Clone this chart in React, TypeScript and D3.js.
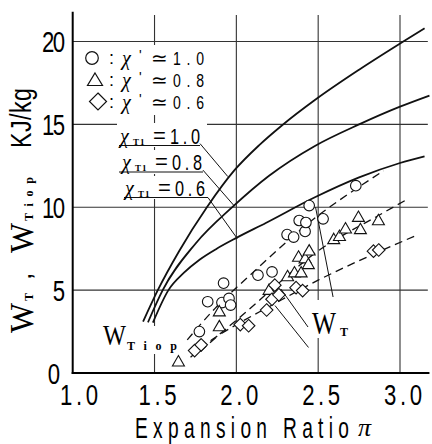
import React from 'react';
import * as d3 from 'd3';

const PI_TICKS = [1.0, 1.5, 2.0, 2.5, 3.0];
const PI_TICK_LABELS = ['1.0', '1.5', '2.0', '2.5', '3.0'];
const W_TICKS = [0, 5, 10, 15, 20];
const GRID_PI = [1.5, 2.0, 2.5, 3.0];
const GRID_W = [5, 10, 15, 20];

// solid curves W_T for chi_T1 = 1.0 / 0.8 / 0.6  [pi, W]
const CHI_10: [number, number][] = [
  [1.43, 3.1], [1.52, 5.0], [1.65, 7.35], [1.82, 10.0], [1.99, 12.25],
  [2.14, 13.75], [2.28, 14.95], [2.484, 16.5], [2.75, 18.3], [3.02, 20.0], [3.15, 20.8],
];
const CHI_08: [number, number][] = [
  [1.46, 3.06], [1.55, 5.0], [1.75, 7.8], [1.98, 10.05], [2.2, 11.9],
  [2.48, 13.7], [2.75, 15.0], [3.0, 16.07], [3.18, 16.74],
];
const CHI_06: [number, number][] = [
  [1.49, 3.04], [1.585, 5.0], [1.68, 6.05], [1.777, 6.85], [1.88, 7.5],
  [2.0, 8.15], [2.18, 9.05], [2.48, 10.6], [2.75, 11.8], [3.0, 12.67], [3.15, 13.07],
];

// dashed curves W_Tiop
const IOP_10: [number, number][] = [
  [1.7, 2.0], [1.87, 3.9], [2.1, 6.05], [2.3, 7.85], [2.5, 9.5], [2.73, 11.1], [2.9, 12.2],
];
const IOP_08: [number, number][] = [
  [1.78, 1.3], [1.87, 2.1], [2.05, 3.6], [2.2, 4.9], [2.35, 6.2], [2.49, 7.3],
  [2.65, 8.3], [2.85, 9.4], [3.03, 10.4],
];
const IOP_06: [number, number][] = [
  [1.72, 0.95], [1.85, 2.0], [1.994, 2.88], [2.2, 4.0], [2.5, 5.6], [2.8, 7.0], [3.095, 8.28],
];

// measured points
const CIRCLES: [number, number][] = [
  [1.774, 2.5], [1.825, 4.3], [1.912, 4.25], [1.955, 4.5], [1.965, 4.1], [1.922, 5.42],
  [2.132, 5.9], [2.218, 6.1], [2.31, 8.35], [2.35, 8.2], [2.42, 8.54], [2.384, 9.2],
  [2.425, 9.08], [2.445, 10.1], [2.53, 9.3], [2.73, 11.3],
];
const TRIANGLES: [number, number][] = [
  [1.646, 0.68], [1.896, 2.8], [1.896, 3.7], [2.2, 5.0], [2.313, 5.82], [2.355, 6.05],
  [2.396, 6.05], [2.38, 7.0], [2.42, 6.9], [2.445, 7.37], [2.44, 6.55], [2.595, 8.06],
  [2.63, 8.25], [2.667, 8.7], [2.758, 8.66], [2.746, 9.4], [2.868, 9.2],
];
const DIAMONDS: [number, number][] = [
  [1.745, 1.35], [1.785, 1.7], [2.024, 2.92], [2.075, 2.85], [2.185, 3.8], [2.218, 4.45],
  [2.26, 4.72], [2.235, 5.3], [2.365, 5.15], [2.405, 4.97], [2.838, 7.35], [2.87, 7.42],
];

// leader lines [from, to]
const CHI_LEADERS: [number, number][][] = [
  [[1.778, 13.84], [1.948, 11.85]],
  [[1.796, 12.24], [1.99, 10.05]],
  [[1.827, 10.58], [2.005, 8.12]],
];
const WT_LEADERS: [number, number][][] = [
  [[2.438, 2.775], [2.272, 5.07]],
  [[2.441, 1.54], [2.236, 4.07]],
  [[2.591, 4.585], [2.484, 10.0]],
];

const SANS = "'Liberation Sans', Arial, sans-serif";
const SERIF = "'Liberation Serif', 'Times New Roman', serif";

const x = d3.scaleLinear().domain([1, 3]).range([72.7, 400]);
const y = d3.scaleLinear().domain([0, 20]).range([373, 41.5]);

const smooth = d3
  .line<[number, number]>()
  .x((d) => x(d[0]))
  .y((d) => y(d[1]))
  .curve(d3.curveMonotoneX);
const straight = d3
  .line<[number, number]>()
  .x((d) => x(d[0]))
  .y((d) => y(d[1]));

const TRI = 'M0,-6.2L6,4.2L-6,4.2Z';
const DIA = 'M0,-6.3L6.3,0L0,6.3L-6.3,0Z';

function NText(props: {
  x: number; y: number; text: string; size: number; len?: number;
  sx?: number; anchor?: string; family?: string;
}) {
  const sx = props.sx ?? 0.74;
  return (
    <text
      transform={`translate(${props.x},${props.y}) scale(${sx},1)`}
      fontSize={props.size}
      fontFamily={props.family ?? SANS}
      textAnchor={props.anchor ?? 'start'}
      textLength={props.len ? props.len / sx : undefined}
      lengthAdjust="spacing"
    >
      {props.text}
    </text>
  );
}

function ChiLabel({ x0, base, value }: { x0: number; base: number; value: string }) {
  return (
    <g>
      <text x={x0} y={base - 2} fontSize={20} fontFamily={SERIF} fontStyle="italic">χ</text>
      <text x={x0 + 13} y={base} fontSize={9} fontFamily={SERIF} fontWeight="bold" letterSpacing={1}>T1</text>
      <text x={x0 + 33} y={base - 2} fontSize={22} fontFamily={SANS}>=</text>
      <NText x={x0 + 50} y={base - 1} text={value} size={22} len={30} />
    </g>
  );
}

function LegendRow({ cy, value, children }: { cy: number; value: string; children: React.ReactNode }) {
  return (
    <g>
      {children}
      <text x={109} y={cy + 6} fontSize={18} fontFamily={SANS}>:</text>
      <text x={122} y={cy + 7} fontSize={20} fontFamily={SERIF} fontStyle="italic">χ</text>
      <text x={139} y={cy + 2} fontSize={14} fontFamily={SANS}>'</text>
      <text x={151} y={cy + 7} fontSize={20} fontFamily="'DejaVu Sans', sans-serif">≃</text>
      <NText x={173} y={cy + 7} text={value} size={19} len={31} />
    </g>
  );
}

export default function App() {
  const xl = x(1);
  const yb = y(0);
  const stroke = '#111';
  return (
    <svg width={432} height={444} style={{ position: 'absolute', left: 0, top: 0, background: '#fff' }}>
      <rect width={432} height={444} fill="#fff" />
      {/* grid */}
      {GRID_PI.map((p) => (
        <line key={'gx' + p} x1={x(p)} x2={x(p)} y1={yb} y2={y(21.6)} stroke="#333" strokeWidth={1.1} />
      ))}
      {GRID_W.map((w) => (
        <line key={'gy' + w} x1={xl} x2={x(3.17)} y1={y(w)} y2={y(w)} stroke="#333" strokeWidth={1.1} />
      ))}
      {/* white boxes behind labels */}
      <rect x={82} y={45} width={128} height={70} fill="#fff" />
      <rect x={117} y={123} width={90} height={24} fill="#fff" />
      <rect x={117} y={150} width={90} height={24} fill="#fff" />
      <rect x={121} y={176} width={90} height={23} fill="#fff" />
      <rect x={100} y={326} width={80} height={28} fill="#fff" />
      <rect x={310} y={300} width={42} height={38} fill="#fff" />
      {/* axes */}
      <line x1={xl} x2={xl} y1={yb + 1} y2={y(21.8)} stroke="#000" strokeWidth={2} />
      <line x1={xl - 1} x2={x(3.18)} y1={yb} y2={yb} stroke="#000" strokeWidth={2} />

      {/* solid curves */}
      {[CHI_10, CHI_08, CHI_06].map((c, i) => (
        <path key={'c' + i} d={smooth(c) ?? ''} fill="none" stroke={stroke} strokeWidth={1.8} />
      ))}
      {/* dashed curves */}
      {[IOP_10, IOP_08, IOP_06].map((c, i) => (
        <path key={'d' + i} d={smooth(c) ?? ''} fill="none" stroke={stroke} strokeWidth={1.3} strokeDasharray="8,5" />
      ))}
      {/* leaders */}
      {CHI_LEADERS.map((l, i) => (
        <path key={'l' + i} d={straight(l) ?? ''} fill="none" stroke={stroke} strokeWidth={1} />
      ))}
      {WT_LEADERS.map((l, i) => (
        <path key={'w' + i} d={straight(l) ?? ''} fill="none" stroke={stroke} strokeWidth={1} />
      ))}
      {/* underlines of chi labels */}
      <line x1={119} x2={200} y1={145.5} y2={145.5} stroke={stroke} strokeWidth={1} />
      <line x1={119} x2={203} y1={172} y2={172} stroke={stroke} strokeWidth={1} />
      <line x1={124} x2={208} y1={197.5} y2={197.5} stroke={stroke} strokeWidth={1} />

      {/* markers */}
      {CIRCLES.map((d, i) => (
        <circle key={'o' + i} cx={x(d[0])} cy={y(d[1])} r={5.3} fill="#fff" stroke={stroke} strokeWidth={1.1} />
      ))}
      {TRIANGLES.map((d, i) => (
        <path key={'t' + i} transform={`translate(${x(d[0])},${y(d[1])})`} d={TRI} fill="#fff" stroke={stroke} strokeWidth={1.1} />
      ))}
      {DIAMONDS.map((d, i) => (
        <path key={'q' + i} transform={`translate(${x(d[0])},${y(d[1])})`} d={DIA} fill="#fff" stroke={stroke} strokeWidth={1.1} />
      ))}

      {/* y tick labels */}
      {W_TICKS.map((w) => (
        <NText key={'yt' + w} x={w === 0 ? 60 : 65} y={y(w) + 10.5} text={String(w)} size={30} anchor="end" len={w >= 10 ? 23 : undefined} />
      ))}
      {/* x tick labels */}
      {PI_TICKS.map((p, i) => (
        <NText key={'xt' + p} x={i === 0 ? 60 : x(p) - 16} y={405} text={PI_TICK_LABELS[i]} size={30} len={38} />
      ))}
      {/* x title */}
      <NText x={135} y={438} text="Expansion Ratio" size={29} sx={0.66} len={214} />
      <text x={358} y={436} fontSize={26} fontFamily={SERIF} fontStyle="italic">π</text>

      {/* y title */}
      <g transform="translate(33,0) rotate(-90)">
        <text x={-333} y={0} fontSize={33} fontFamily={SERIF} textLength={30} lengthAdjust="spacingAndGlyphs">W</text>
        <text x={-301} y={0} fontSize={12} fontFamily={SERIF} fontWeight="bold">T</text>
        <text x={-280} y={-2} fontSize={26} fontFamily={SANS}>,</text>
        <text x={-253} y={0} fontSize={33} fontFamily={SERIF} textLength={30} lengthAdjust="spacingAndGlyphs">W</text>
        <text x={-221} y={0} fontSize={12} fontFamily={SERIF} fontWeight="bold" textLength={44} lengthAdjust="spacing">Tiop</text>
        <g transform="translate(-148,-2) scale(0.8,1)">
          <text x={0} y={0} fontSize={29} fontFamily={SANS} textLength={60 / 0.8} lengthAdjust="spacing">KJ/kg</text>
        </g>
      </g>

      {/* legend */}
      <LegendRow cy={58} value="1.0">
        <circle cx={92} cy={58} r={6.3} fill="#fff" stroke={stroke} strokeWidth={1.2} />
      </LegendRow>
      <LegendRow cy={80} value="0.8">
        <path transform="translate(95,80)" d="M0,-7L7.5,5.5L-7.5,5.5Z" fill="#fff" stroke={stroke} strokeWidth={1.2} />
      </LegendRow>
      <LegendRow cy={102} value="0.6">
        <path transform="translate(98,101.5)" d="M0,-8.5L8.5,0L0,8.5L-8.5,0Z" fill="#fff" stroke={stroke} strokeWidth={1.2} />
      </LegendRow>

      {/* chi_T1 labels */}
      <ChiLabel x0={120} base={145} value="1.0" />
      <ChiLabel x0={122} base={171} value="0.8" />
      <ChiLabel x0={125} base={197} value="0.6" />

      {/* W_Tiop and W_T labels */}
      <text x={103} y={345} fontSize={30} fontFamily={SERIF} textLength={23} lengthAdjust="spacingAndGlyphs">W</text>
      <text x={127} y={350} fontSize={12} fontFamily={SERIF} fontWeight="bold" textLength={50} lengthAdjust="spacing">Tiop</text>
      <text x={312} y={334} fontSize={31} fontFamily={SERIF} textLength={24} lengthAdjust="spacingAndGlyphs">W</text>
      <text x={340} y={336} fontSize={12} fontFamily={SERIF} fontWeight="bold">T</text>
    </svg>
  );
}
